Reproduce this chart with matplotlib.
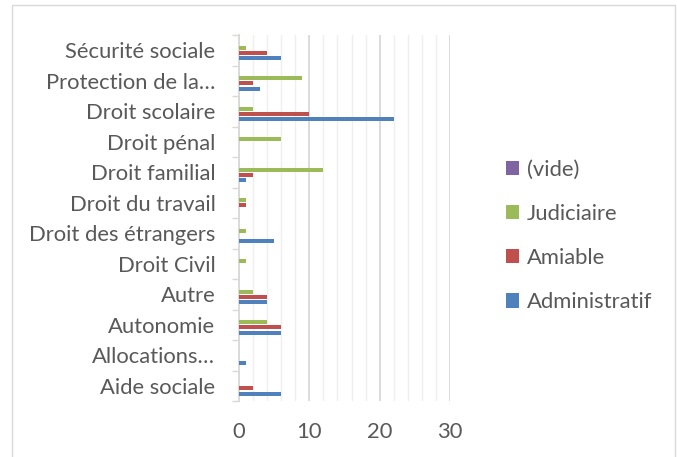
import numpy as np
import matplotlib.pyplot as plt
from matplotlib.patches import Rectangle

# categories, bottom to top
categories = ["Aide sociale", "Allocations…", "Autonomie", "Autre", "Droit Civil",
              "Droit des étrangers", "Droit du travail", "Droit familial", "Droit pénal",
              "Droit scolaire", "Protection de la…", "Sécurité sociale"]
administratif = [6, 1, 6, 4, 0, 5, 0, 1, 0, 22, 3, 6]
amiable = [2, 0, 6, 4, 0, 0, 1, 2, 0, 10, 2, 4]
judiciaire = [0, 0, 4, 2, 1, 1, 1, 12, 6, 2, 9, 1]
vide = [0] * 12
x_ticks = [0, 10, 20, 30]

plt.rcParams['font.family'] = ['Lato', 'DejaVu Sans']
txt = '#595959'
fs = 15.8

fig = plt.figure(figsize=(6.77, 4.57), dpi=100)
fig.patches.append(Rectangle((12 / 677, -0.01), 663 / 677, 1 - 5 / 457 + 0.01, transform=fig.transFigure,
                             fill=False, edgecolor='#d9d9d9', linewidth=1))
ax = fig.add_axes([239 / 677, 1 - 401 / 457, (450 - 239) / 677, (401 - 35) / 457])

y = np.arange(len(categories))
step = 0.172
h = 0.13
series = [(administratif, '#4f81bd', 'Administratif'),
          (amiable, '#c0504d', 'Amiable'),
          (judiciaire, '#9bbb59', 'Judiciaire'),
          (vide, '#8064a2', '(vide)')]
handles = []
for i, (vals, col, name) in enumerate(series):
    b = ax.barh(y + (i - 1.5) * step, vals, height=h, color=col, label=name, zorder=3)
    handles.append(b)

ax.set_xlim(0, 30)
ax.set_ylim(-0.5, len(categories) - 0.5)
ax.set_xticks(x_ticks)
ax.set_xticks(np.arange(0, 31, 2), minor=True)
ax.grid(axis='x', which='minor', color='#efefef', linewidth=1, zorder=0)
ax.grid(axis='x', which='major', color='#d9d9d9', linewidth=1.3, zorder=1)
ax.set_yticks(y)
ax.set_yticklabels(categories)
ax.set_yticks(np.arange(-0.5, len(categories), 1), minor=True)
ax.tick_params(axis='y', which='major', length=0, pad=17, labelsize=fs, labelcolor=txt)
ax.tick_params(axis='y', which='minor', length=5, color='#d9d9d9', width=1)
ax.tick_params(axis='x', which='both', length=0, pad=15, labelsize=fs, labelcolor=txt)
for s in ['top', 'right', 'bottom']:
    ax.spines[s].set_visible(False)
ax.spines['left'].set_color('#d9d9d9')
ax.spines['left'].set_linewidth(1.3)

fig.legend(handles[::-1], [s[2] for s in series][::-1], loc='center left',
           bbox_to_anchor=(486 / 677, 1 - 236 / 457), frameon=False, fontsize=fs,
           labelcolor=txt, handlelength=0.62, handleheight=0.62, handletextpad=0.35,
           labelspacing=1.1)

fig.savefig('out.png', dpi=100)
